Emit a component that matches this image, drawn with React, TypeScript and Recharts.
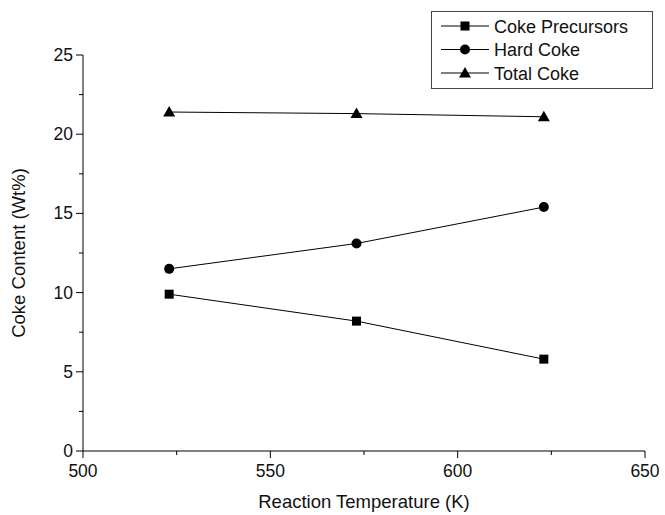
import React from 'react';
import { LineChart, Line, XAxis, YAxis } from 'recharts';

const temperatures = [523, 573, 623];
const cokePrecursors = [9.9, 8.2, 5.8];
const hardCoke = [11.5, 13.1, 15.4];
const totalCoke = [21.4, 21.3, 21.1];

const xTicks = [500, 525, 550, 575, 600, 625, 650];
const yTicks = [0, 2.5, 5, 7.5, 10, 12.5, 15, 17.5, 20, 22.5, 25];

const data = temperatures.map((t, i) => ({
  temp: t,
  precursors: cokePrecursors[i],
  hard: hardCoke[i],
  total: totalCoke[i],
}));

const FONT = '"Liberation Sans", Arial, sans-serif';

const Marker = ({ cx, cy, kind }: any) => {
  if (cx == null || cy == null) return null;
  if (kind === 'square') return <rect x={cx - 4.5} y={cy - 4.5} width={9} height={9} fill="#000" />;
  if (kind === 'circle') return <circle cx={cx} cy={cy} r={5} fill="#000" />;
  return <polygon points={`${cx},${cy - 6} ${cx + 6},${cy + 4.5} ${cx - 6},${cy + 4.5}`} fill="#000" />;
};

const YTick = ({ x, y, payload }: any) => {
  const major = payload.value % 5 === 0;
  return (
    <g>
      <line x1={x} x2={x - (major ? 7 : 4)} y1={y} y2={y} stroke="#000" />
      {major && (
        <text x={x - 10} y={y} dy={6} textAnchor="end" fontSize={17.5} fill="#111" fontFamily={FONT}>
          {payload.value}
        </text>
      )}
    </g>
  );
};

const XTick = ({ x, y, payload }: any) => {
  const major = payload.value % 50 === 0;
  return (
    <g>
      <line x1={x} x2={x} y1={y} y2={y + (major ? 7 : 4)} stroke="#000" />
      {major && (
        <text x={x} y={y + 26} textAnchor="middle" fontSize={17.5} fill="#111" fontFamily={FONT}>
          {payload.value}
        </text>
      )}
    </g>
  );
};

const legendItems = [
  { label: 'Coke Precursors', kind: 'square' },
  { label: 'Hard Coke', kind: 'circle' },
  { label: 'Total Coke', kind: 'triangle' },
];

const LegendBox = () => (
  <svg width={222} height={78} style={{ position: 'absolute', left: 431, top: 11 }}>
    <rect x={0.5} y={0.5} width={221} height={77} fill="#fff" stroke="#444" />
    {legendItems.map((item, i) => {
      const cy = 15 + i * 23.5;
      return (
        <g key={item.label}>
          <line x1={10} x2={58} y1={cy} y2={cy} stroke="#000" />
          <Marker cx={34} cy={cy} kind={item.kind} />
          <text x={63} y={cy + 6.5} fontSize={18} fill="#111" fontFamily={FONT}>
            {item.label}
          </text>
        </g>
      );
    })}
  </svg>
);

export default function App() {
  return (
    <div style={{ position: 'absolute', left: 0, top: 0, width: 665, height: 515, background: '#fff' }}>
      <LineChart width={665} height={515} data={data} margin={{ top: 55, right: 20, left: 0, bottom: 0 }}>
        <XAxis
          dataKey="temp"
          type="number"
          domain={[500, 650]}
          ticks={xTicks}
          interval={0}
          height={64}
          stroke="#000"
          tickSize={0}
          tickMargin={0}
          tick={<XTick />}
          label={{ value: 'Reaction Temperature (K)', position: 'insideBottom', offset: 7, fontSize: 18.5, fill: '#111', fontFamily: FONT }}
        />
        <YAxis
          type="number"
          domain={[0, 25]}
          ticks={yTicks}
          interval={0}
          width={83}
          stroke="#000"
          tickSize={0}
          tickMargin={0}
          tick={<YTick />}
          label={{ value: 'Coke Content (Wt%)', angle: -90, position: 'insideLeft', offset: 18, fontSize: 18.5, fill: '#111', fontFamily: FONT, style: { textAnchor: 'middle' } }}
        />
        <Line dataKey="precursors" name="Coke Precursors" stroke="#000" strokeWidth={1} isAnimationActive={false} dot={<Marker kind="square" />} activeDot={false} />
        <Line dataKey="hard" name="Hard Coke" stroke="#000" strokeWidth={1} isAnimationActive={false} dot={<Marker kind="circle" />} activeDot={false} />
        <Line dataKey="total" name="Total Coke" stroke="#000" strokeWidth={1} isAnimationActive={false} dot={<Marker kind="triangle" />} activeDot={false} />
      </LineChart>
      <LegendBox />
    </div>
  );
}
